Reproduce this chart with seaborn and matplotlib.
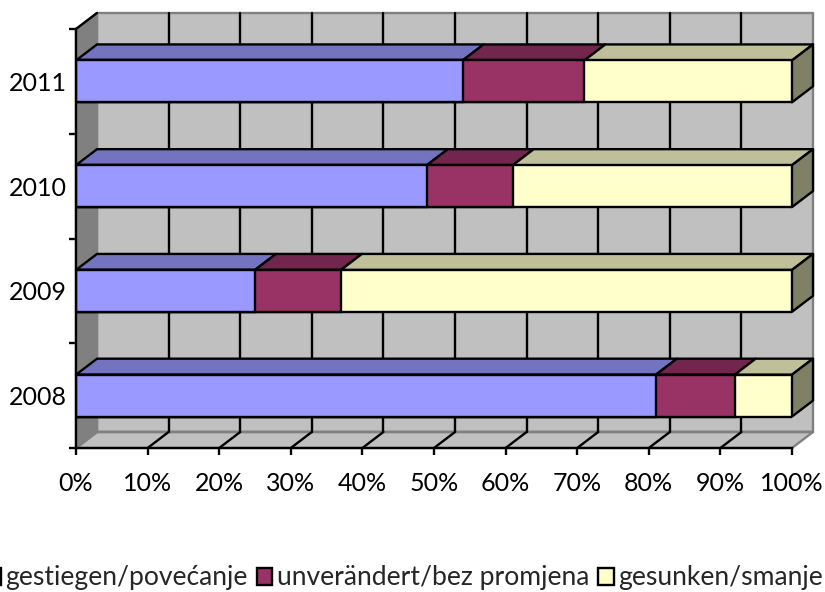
import seaborn as sns
import matplotlib.pyplot as plt
import numpy as np
import pandas as pd
from matplotlib.patches import Polygon, Patch

years = ["2011", "2010", "2009", "2008"]
series = ["gestiegen/povećanje", "unverändert/bez promjena", "gesunken/smanje"]
gestiegen = [54, 49, 25, 81]
unveraendert = [17, 12, 12, 11]
gesunken = [29, 39, 63, 8]
x_ticks = [0, 10, 20, 30, 40, 50, 60, 70, 80, 90, 100]

front = ["#9999ff", "#993366", "#ffffcc"]
top = ["#7373bf", "#73264d", "#bfbf99"]
side = "#808066"
LW = 1.7

sns.set_theme(style="white")
plt.rcParams["font.family"] = ["Lato", "DejaVu Sans"]

W, H = 825, 592
fig = plt.figure(figsize=(W / 100, H / 100), dpi=100)
ax = fig.add_axes([76 / W, 1 - 448 / H, 716 / W, 419 / H])

df = pd.DataFrame({"year": years, "a": gestiegen, "b": unveraendert, "c": gesunken})
left = df[["a", "b", "c"]].cumsum(axis=1)

# stacked: longest first, the shorter ones go on top
for col, color in zip(["c", "b", "a"], front[::-1]):
    sns.barplot(data=left, x=col, y=df["year"], order=years, color=color, saturation=1,
                width=0.4, edgecolor="black", linewidth=LW, ax=ax, zorder=4)

ax.set_xlim(0, 100)
ax.set_ylim(3.5, -0.5)
dx = 21 / 716 * 100
dy = 16 / 419 * 4


def poly(points, fc, ec="black", lw=LW, z=3):
    ax.add_patch(Polygon(points, closed=True, facecolor=fc, edgecolor=ec, linewidth=lw,
                         zorder=z, clip_on=False, joinstyle="round"))


# walls and floor
y0, y1 = 3.5, -0.5
poly([(dx, y0 - dy), (100 + dx, y0 - dy), (100 + dx, y1 - dy), (dx, y1 - dy)], "#c0c0c0", "#808080", LW, 1)
poly([(0, y0), (dx, y0 - dy), (dx, y1 - dy), (0, y1)], "#808080", "#808080", LW, 1)
poly([(0, y0), (dx, y0 - dy), (100 + dx, y0 - dy), (100, y0)], "#c0c0c0", "#808080", LW, 1)

# gridlines on the wall and the floor
for t in x_ticks[1:-1]:
    ax.plot([t + dx, t + dx], [y0 - dy, y1 - dy], color="black", lw=LW, zorder=2, clip_on=False)
    ax.plot([t, t + dx], [y0, y0 - dy], color="black", lw=LW, zorder=2, clip_on=False)
ax.plot([dx, 100 + dx], [y0 - dy, y0 - dy], color="#808080", lw=LW, zorder=1.5, clip_on=False)
ax.plot([0, dx], [y1, y1 - dy], color="black", lw=LW, zorder=2, clip_on=False)
ax.plot([0, dx], [y0, y0 - dy], color="#808080", lw=LW, zorder=1.5, clip_on=False)

# bar depth faces
ends = left[["a", "b", "c"]].to_numpy()
for i in range(len(years)):
    yt = i - 0.2
    yb = i + 0.2
    start = 0
    for j in range(3):
        end = ends[i, j]
        poly([(start, yt), (start + dx, yt - dy), (end + dx, yt - dy), (end, yt)], top[j], z=3)
        start = end
    poly([(100, yt), (100 + dx, yt - dy), (100 + dx, yb - dy), (100, yb)], side, z=3)

# axes
for s in ["top", "right"]:
    ax.spines[s].set_visible(False)
for s in ["left", "bottom"]:
    ax.spines[s].set_visible(True)
    ax.spines[s].set_color("black")
    ax.spines[s].set_linewidth(LW)
    ax.spines[s].set_zorder(5)

ax.set_xticks(x_ticks)
ax.set_xticklabels([f"{t}%" for t in x_ticks], fontsize=18, color="black")
ax.set_yticks(range(4))
ax.set_yticklabels(years, fontsize=18, color="black")
ax.set_yticks(np.arange(-0.5, 4), minor=True)
ax.tick_params(axis="x", which="major", length=5, width=LW, color="black", bottom=True, pad=12)
ax.tick_params(axis="y", which="major", length=0, pad=6.5, left=False)
ax.tick_params(axis="y", which="minor", length=5, width=LW, color="black", left=True)
ax.set_xlabel("")
ax.set_ylabel("")
ax.patch.set_visible(False)

handles = [Patch(facecolor=c, edgecolor="black", linewidth=LW) for c in front]
fig.legend(handles, series, loc="center left", bbox_to_anchor=(-15 / W, 1 - 578 / H), ncol=3,
           frameon=False, fontsize=19.1, handlelength=0.6, handleheight=0.6, handletextpad=0.16,
           columnspacing=0.34, borderpad=0, borderaxespad=0)

fig.savefig("out.png", dpi=100)
